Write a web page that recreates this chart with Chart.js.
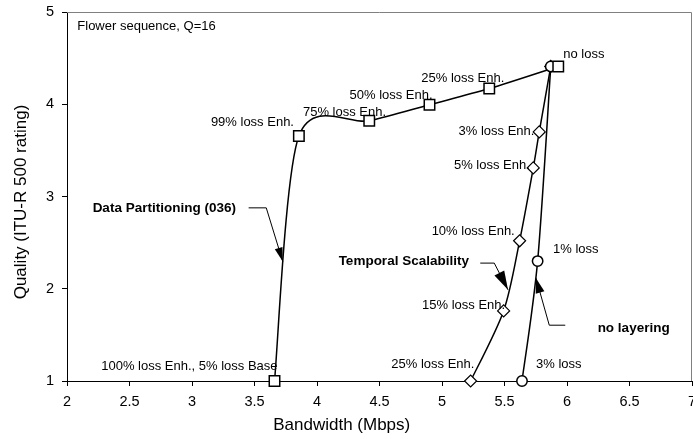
<!DOCTYPE html>
<html><head><meta charset="utf-8">
<script src="https://cdn.jsdelivr.net/npm/chart.js@4.4.1/dist/chart.umd.min.js"></script>
<style>html,body{margin:0;padding:0;background:#fff;} canvas{display:block;}</style>
</head><body>
<canvas id="c" width="693" height="439"></canvas>
<script>
// ---- data ----
const xTicks = [2, 2.5, 3, 3.5, 4, 4.5, 5, 5.5, 6, 6.5, 7];
const yTicks = [1, 2, 3, 4, 5];

const dpBandwidth = [3.66, 3.855, 4.418, 4.90, 5.378, 5.93];
const dpQuality   = [1.00, 3.655, 3.82, 3.995, 4.17, 4.41];
const dpLabels    = ['100% loss Enh., 5% loss Base', '99% loss Enh.', '75% loss Enh.', '50% loss Enh.', '25% loss Enh.', 'no loss'];

const tsBandwidth = [5.229, 5.493, 5.621, 5.730, 5.778, 5.87];
const tsQuality   = [1.00, 1.76, 2.52, 3.31, 3.70, 4.41];
const tsLabels    = ['25% loss Enh.', '15% loss Enh.', '10% loss Enh.', '5% loss Enh.', '3% loss Enh.', ''];

const nlBandwidth = [5.64, 5.765, 5.87];
const nlQuality   = [1.00, 2.30, 4.41];
const nlLabels    = ['3% loss', '1% loss', ''];

const xTitle = 'Bandwidth (Mbps)';
const yTitle = 'Quality (ITU-R 500 rating)';

// ---- annotation layout (pixel offsets of label left/middle from its point) ----
const labelOffsets = {
  dp: [[-173.3, -15], [-88, -13.3], [-66.3, -8.3], [-80, -9.3], [-68, -10.4], [5, -12.4]],
  ts: [[-79.3, -16.7], [-81.6, -5], [-88, -9.3], [-79.3, -2.6], [-80.7, -0.3], [0, 0]],
  nl: [[14, -16.7], [15.4, -11.7], [0, 0]]
};
const notes = [
  {text: 'Flower sequence, Q=16', x: 2.0824, y: 4.841, bold: false},
  {text: 'Data Partitioning (036)', x: 2.205, y: 2.872, bold: true},
  {text: 'Temporal Scalability', x: 4.173, y: 2.302, bold: true},
  {text: 'no layering', x: 6.245, y: 1.573, bold: true}
];
const callouts = [
  {pts: [[3.453, 2.877], [3.594, 2.877], [3.726, 2.295]], len: 14, wid: 8},
  {pts: [[5.306, 2.278], [5.418, 2.278], [5.528, 1.988]], len: 19, wid: 11},
  {pts: [[5.986, 1.605], [5.858, 1.605], [5.752, 2.115]], len: 15, wid: 9}
];

const FONT = "'Liberation Sans', Arial, sans-serif";
const toXY = (xs, ys) => xs.map((x, i) => ({x: x, y: ys[i]}));

// Excel-like smoothing (uniform Catmull-Rom style control points)
const smoothPlugin = {
  id: 'smooth',
  beforeDatasetsDraw(chart) {
    chart.getSortedVisibleDatasetMetas().forEach(meta => {
      const ds = chart.data.datasets[meta.index];
      if (!ds.showLine || !meta.dataset) return;
      meta.dataset.updateControlPoints(chart.chartArea, 'x');
      const p = meta.data;
      const k = 0.145;
      for (let i = 0; i < p.length; i++) {
        const prev = p[Math.max(0, i - 1)], next = p[Math.min(p.length - 1, i + 1)];
        const dx = (next.x - prev.x) * k, dy = (next.y - prev.y) * k;
        p[i].cp1x = p[i].x - dx; p[i].cp1y = p[i].y - dy;
        p[i].cp2x = p[i].x + dx; p[i].cp2y = p[i].y + dy;
      }
      meta.dataset._path = undefined;
    });
  }
};

const framePlugin = {
  id: 'frame',
  beforeDatasetsDraw(chart) {
    const {ctx, chartArea: a} = chart;
    ctx.save();
    ctx.strokeStyle = '#808080';
    ctx.lineWidth = 1;
    ctx.beginPath();
    ctx.moveTo(a.left, a.top + 0.5);
    ctx.lineTo(a.right - 0.5, a.top + 0.5);
    ctx.lineTo(a.right - 0.5, a.bottom);
    ctx.stroke();
    ctx.restore();
  }
};

const annotPlugin = {
  id: 'annot',
  afterDraw(chart) {
    const {ctx} = chart;
    const sx = chart.scales.x, sy = chart.scales.y;
    ctx.save();
    ctx.fillStyle = '#000';
    ctx.textBaseline = 'middle';
    ctx.textAlign = 'left';
    ctx.font = '13px ' + FONT;
    const series = [[dpBandwidth, dpQuality, dpLabels, labelOffsets.dp],
                    [tsBandwidth, tsQuality, tsLabels, labelOffsets.ts],
                    [nlBandwidth, nlQuality, nlLabels, labelOffsets.nl]];
    series.forEach(([bx, qy, lab, off]) => {
      lab.forEach((t, i) => {
        if (!t) return;
        ctx.fillText(t, sx.getPixelForValue(bx[i]) + off[i][0], sy.getPixelForValue(qy[i]) + off[i][1]);
      });
    });
    notes.forEach(n => {
      ctx.font = (n.bold ? 'bold 13.5px ' : '13px ') + FONT;
      ctx.fillText(n.text, sx.getPixelForValue(n.x), sy.getPixelForValue(n.y));
    });
    // callout arrows
    callouts.forEach(c => {
      const pts = c.pts.map(p => [sx.getPixelForValue(p[0]), sy.getPixelForValue(p[1])]);
      ctx.strokeStyle = '#000';
      ctx.lineWidth = 1;
      ctx.beginPath();
      ctx.moveTo(pts[0][0], pts[0][1]);
      for (let i = 1; i < pts.length; i++) ctx.lineTo(pts[i][0], pts[i][1]);
      ctx.stroke();
      const t = pts[pts.length - 1], f = pts[pts.length - 2];
      const L = Math.hypot(t[0] - f[0], t[1] - f[1]);
      const ux = (t[0] - f[0]) / L, uy = (t[1] - f[1]) / L;
      const bx = t[0] - ux * c.len, by = t[1] - uy * c.len;
      ctx.beginPath();
      ctx.moveTo(t[0], t[1]);
      ctx.lineTo(bx - uy * c.wid / 2, by + ux * c.wid / 2);
      ctx.lineTo(bx + uy * c.wid / 2, by - ux * c.wid / 2);
      ctx.closePath();
      ctx.fill();
    });
    // axis titles
    ctx.font = '17px ' + FONT;
    ctx.textAlign = 'center';
    ctx.fillText(xTitle, 341.7, 425);
    ctx.translate(21, 202);
    ctx.rotate(-Math.PI / 2);
    ctx.fillText(yTitle, 0, 0);
    ctx.restore();
  }
};

new Chart(document.getElementById('c'), {
  type: 'scatter',
  data: {
    datasets: [
      {label: 'Data Partitioning (036) line', data: toXY(dpBandwidth, dpQuality), showLine: true, clip: false,
       borderColor: '#000', borderWidth: 1.5, tension: 0.4, pointRadius: 0, order: 4},
      {label: 'Temporal Scalability', data: toXY(tsBandwidth, tsQuality), showLine: true, clip: false,
       borderColor: '#000', borderWidth: 1.5, tension: 0.4, pointStyle: 'rectRot', pointRadius: 6,
       pointBorderWidth: 1.2, pointBackgroundColor: '#fff', pointBorderColor: '#000', order: 3},
      {label: 'no layering', data: toXY(nlBandwidth, nlQuality), showLine: true, clip: false,
       borderColor: '#000', borderWidth: 1.5, tension: 0.4, pointStyle: 'circle', pointRadius: 5.2,
       pointBorderWidth: 1.5, pointBackgroundColor: '#fff', pointBorderColor: '#000', order: 2},
      {label: 'Data Partitioning (036)', data: toXY(dpBandwidth, dpQuality), showLine: false, clip: false,
       pointStyle: 'rect', pointRadius: 7.4, pointBorderWidth: 1.5,
       pointBackgroundColor: '#fff', pointBorderColor: '#000', order: 0}
    ]
  },
  options: {
    responsive: false,
    animation: false,
    devicePixelRatio: 1,
    layout: {autoPadding: false, padding: {left: 0, top: 12, right: 1, bottom: 0}},
    plugins: {legend: {display: false}, tooltip: {enabled: false}, title: {display: false}},
    scales: {
      x: {
        type: 'linear', min: 2, max: 7,
        afterBuildTicks: s => { s.ticks = xTicks.map(v => ({value: v})); },
        afterFit: s => { s.height = 58; s.paddingLeft = 0; s.paddingRight = 0; },
        ticks: {autoSkip: false, maxRotation: 0, color: '#000', padding: 7,
                font: {family: FONT, size: 14.5}, callback: v => String(v)},
        grid: {display: true, drawOnChartArea: false, drawTicks: true, tickLength: 5, color: '#000'},
        border: {display: true, color: '#000', width: 1}
      },
      y: {
        type: 'linear', min: 1, max: 5,
        afterBuildTicks: s => { s.ticks = yTicks.map(v => ({value: v})); },
        afterFit: s => { s.width = 67; s.paddingTop = 0; s.paddingBottom = 0; },
        ticks: {color: '#000', padding: 8, font: {family: FONT, size: 14.5}, callback: v => String(v)},
        grid: {display: true, drawOnChartArea: false, drawTicks: true, tickLength: 5, color: '#000'},
        border: {display: true, color: '#000', width: 1}
      }
    }
  },
  plugins: [smoothPlugin, framePlugin, annotPlugin]
});
</script>
</body></html>
